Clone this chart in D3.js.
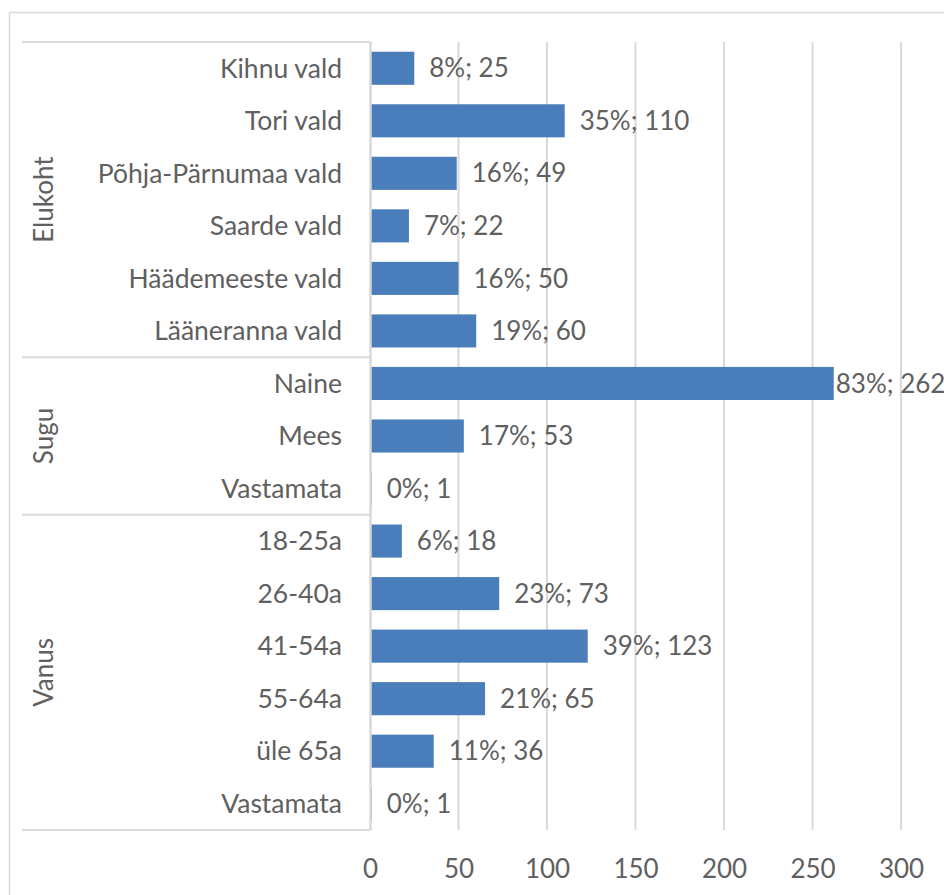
<!DOCTYPE html>
<html><head><meta charset="utf-8">
<script src="https://cdn.jsdelivr.net/npm/d3@7"></script>
<style>body{margin:0;background:#fff;} svg{display:block;font-family:Lato,"Open Sans",sans-serif;}</style>
</head><body>
<svg id="c" width="944" height="895"></svg>
<script>
const groups = ["Elukoht", "Sugu", "Vanus"];
const categories = ["Kihnu vald","Tori vald","Põhja-Pärnumaa vald","Saarde vald","Häädemeeste vald","Lääneranna vald",
  "Naine","Mees","Vastamata",
  "18-25a","26-40a","41-54a","55-64a","üle 65a","Vastamata"];
const categoryGroup = ["Elukoht","Elukoht","Elukoht","Elukoht","Elukoht","Elukoht","Sugu","Sugu","Sugu","Vanus","Vanus","Vanus","Vanus","Vanus","Vanus"];
const values = [25,110,49,22,50,60,262,53,1,18,73,123,65,36,1];
const percents = ["8%","35%","16%","7%","16%","19%","83%","17%","0%","6%","23%","39%","21%","11%","0%"];
const xTicks = [0,50,100,150,200,250,300];

(function(){
const svg = d3.select("#c");
const W = 944, H = 895;
const pTop = 42, pBottom = 830, x0 = 370, x1 = 901, catLeft = 22;
const gray = "#d9d9d9", txt = "#606060", barColor = "#4a7ebb";

// outer frame
svg.append("line").attr("x1",9.5).attr("x2",W).attr("y1",12.5).attr("y2",12.5).attr("stroke",gray).attr("stroke-width",1.5);
svg.append("line").attr("x1",9.5).attr("x2",9.5).attr("y1",12.5).attr("y2",H).attr("stroke",gray).attr("stroke-width",1.5);

const x = d3.scaleLinear().domain([0,300]).range([x0,x1]);
const idx = d3.range(categories.length);
const y = d3.scaleBand().domain(idx).range([pTop,pBottom]).paddingInner(0.37).paddingOuter(0.185);

// gridlines
svg.append("g").selectAll("line").data(xTicks.slice(1)).join("line")
  .attr("x1",d=>x(d)).attr("x2",d=>x(d)).attr("y1",pTop).attr("y2",pBottom)
  .attr("stroke",gray).attr("stroke-width",2);

// x axis labels
const xa = svg.append("g").attr("transform",`translate(0,${pBottom})`)
  .call(d3.axisBottom(x).tickValues(xTicks).tickSize(0).tickPadding(30));
xa.select(".domain").remove();
xa.selectAll("text").attr("fill",txt).attr("font-size",26).attr("font-family","Lato");

// bars
svg.append("g").selectAll("rect").data(idx).join("rect")
  .attr("x",x(0)).attr("y",i=>y(i)).attr("height",y.bandwidth())
  .attr("width",i=>x(values[i])-x(0)).attr("fill",barColor);

// category axis line and group boxes
const rowTop = i => pTop + i*((pBottom-pTop)/categories.length);
svg.append("line").attr("x1",x0+0.5).attr("x2",x0+0.5).attr("y1",pTop).attr("y2",pBottom).attr("stroke",gray).attr("stroke-width",2.5);
const groupInfo = groups.map(g=>{
  const ii = idx.filter(i=>categoryGroup[i]===g);
  return {g, first: d3.min(ii), last: d3.max(ii)};
});
const bounds = [pTop].concat(groupInfo.map(d=>rowTop(d.last+1)));
svg.append("g").selectAll("line").data(bounds).join("line")
  .attr("x1",catLeft).attr("x2",x0).attr("y1",d=>d).attr("y2",d=>d)
  .attr("stroke",gray).attr("stroke-width",2);

// category labels
svg.append("g").selectAll("text").data(idx).join("text")
  .attr("x",342).attr("y",i=>y(i)+y.bandwidth()/2).attr("dy","0.35em")
  .attr("text-anchor","end").attr("fill",txt).attr("font-size",26.5)
  .text(i=>categories[i]);

// group labels
svg.append("g").selectAll("text").data(groupInfo).join("text")
  .attr("transform",d=>`translate(44,${(rowTop(d.first)+rowTop(d.last+1))/2}) rotate(-90)`)
  .attr("dy","0.35em").attr("text-anchor","middle").attr("fill",txt).attr("font-size",26)
  .text(d=>d.g);

// value labels
svg.append("g").selectAll("text").data(idx).join("text")
  .attr("x",i=>x(values[i])+15).attr("y",i=>y(i)+y.bandwidth()/2).attr("dy","0.35em")
  .attr("fill",txt).attr("font-size",26)
  .text(i=>`${percents[i]}; ${values[i]}`)
  .each(function(){
    const w = this.getComputedTextLength();
    const cx = +this.getAttribute("x");
    if (cx + w > W - 1) this.setAttribute("x", Math.max(cx-15+2, W - 1 - w));
  });
})();
</script>
</body></html>
